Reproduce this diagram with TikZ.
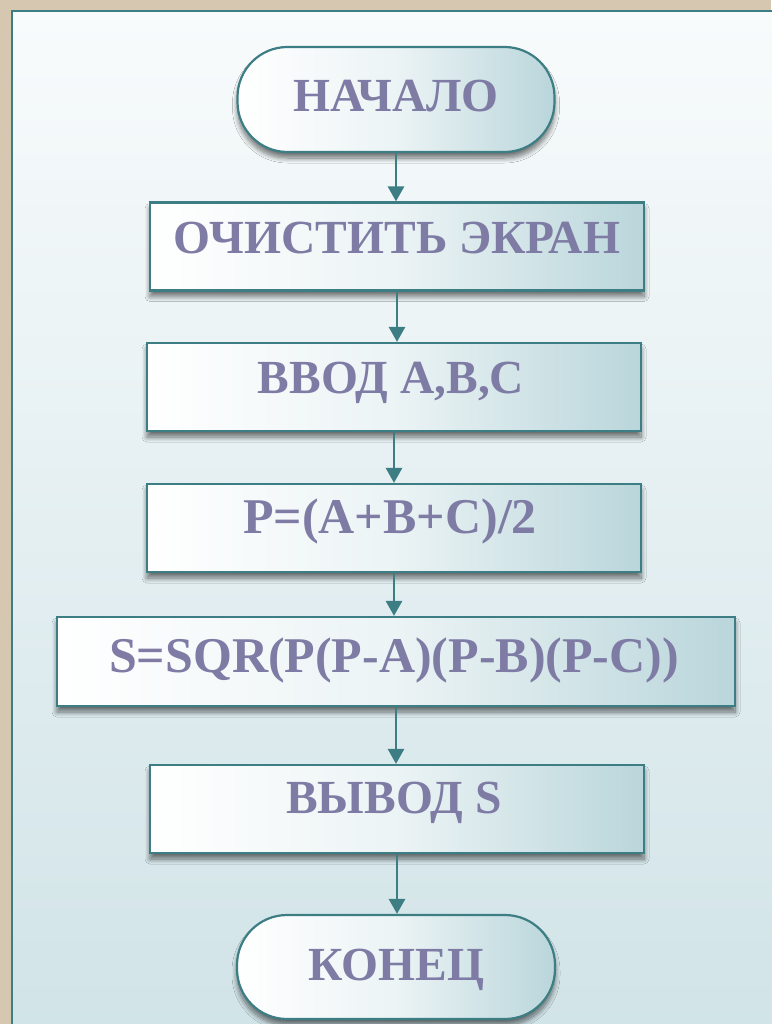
\documentclass[tikz,border=0pt]{standalone}
\usepackage{fontspec}
\setmainfont{Liberation Serif}
\usetikzlibrary{arrows.meta,shadows.blur}
\definecolor{teal1}{RGB}{61,126,132}
\definecolor{txtc}{RGB}{126,124,165}
\definecolor{boxr}{RGB}{186,214,219}
\definecolor{beige}{RGB}{214,200,176}
\definecolor{paneltop}{RGB}{248,251,252}
\definecolor{panelbot}{RGB}{208,227,231}
\begin{document}
\begin{tikzpicture}[x=1pt,y=-1pt,
  box/.style={draw=teal1, line width=2.2pt, left color=white, right color=boxr, middle color=white!72!boxr,
    blur shadow={shadow xshift=0pt, shadow yshift=-6pt, shadow blur steps=10, shadow blur radius=5pt, shadow opacity=55},
    inner sep=0pt},
  term/.style={box, rounded corners=50pt},
  txt/.style={anchor=base, text=txtc, font=\bfseries\fontsize{47.5}{52}\selectfont, inner sep=0pt},
  arr/.style={draw=teal1, line width=2.8pt, -{Triangle[length=15pt,width=16pt]}}]
\useasboundingbox (0,0) rectangle (771,1024);
\fill[beige] (0,0) rectangle (771,1024);
\draw[teal1, line width=2.5pt, top color=paneltop, bottom color=panelbot] (12,11) rectangle (800,1050);
% shapes
\node[term, minimum width=317pt, minimum height=105pt] (n0) at (396,99.5) {};
\node[box, minimum width=494pt, minimum height=88pt] (n1) at (397,246.5) {};
\node[box, minimum width=494pt, minimum height=88pt] (n2) at (394,387) {};
\node[box, minimum width=494pt, minimum height=88pt] (n3) at (394,528) {};
\node[box, minimum width=678pt, minimum height=89pt] (n4) at (396,661.5) {};
\node[box, minimum width=494pt, minimum height=88pt] (n5) at (397,809) {};
\node[term, minimum width=318pt, minimum height=104pt] (n6) at (396,967) {};
% texts
\node[txt] (t0) at (396,112) {НАЧАЛО};
\node[txt] (t1) at (397,253) {ОЧИСТИТЬ ЭКРАН};
\node[txt] (t2) at (391,393) {ВВОД A,B,C};
\node[txt, font=\bfseries\fontsize{50}{54}\selectfont] (t3) at (390,533) {P=(A+B+C)/2};
\node[txt, font=\bfseries\fontsize{50}{54}\selectfont] (t4) at (394,672) {S=SQR(P(P-A)(P-B)(P-C))};
\node[txt] (t5) at (394,813) {ВЫВОД S};
\node[txt] (t6) at (396,980) {КОНЕЦ};
% connectors
\draw[arr] (n0.south) -- (n0.south |- n1.north);
\draw[arr] (n1.south) -- (n1.south |- n2.north);
\draw[arr] (n2.south) -- (n2.south |- n3.north);
\draw[arr] (n3.south) -- (n3.south |- n4.north);
\draw[arr] (n4.south) -- (n4.south |- n5.north);
\draw[arr] (n5.south) -- (n5.south |- n6.north);
\end{tikzpicture}
\end{document}
